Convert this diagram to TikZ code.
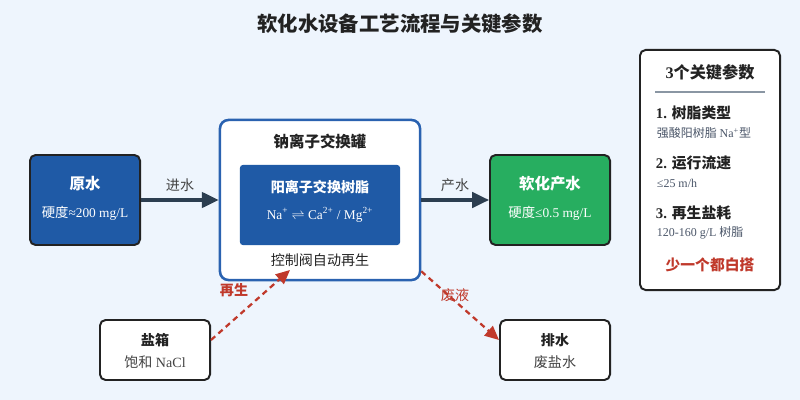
\documentclass[tikz,border=0pt]{standalone}
\usepackage{fontspec}
\setmainfont{Liberation Serif}
\newfontfamily\cjk{Noto Sans CJK SC}
\usetikzlibrary{arrows.meta, positioning, calc}
\definecolor{WtBg}{HTML}{EEF5FD}
\definecolor{WtBlue}{HTML}{1F5AA6}
\definecolor{WtEdge}{HTML}{2A62B0}
\definecolor{WtGreen}{HTML}{27AE60}
\definecolor{WtSlate}{HTML}{2C3E50}
\definecolor{WtRed}{HTML}{C0392B}
\definecolor{WtInk}{HTML}{222222}
\definecolor{WtGray}{HTML}{4A5568}
\definecolor{WtRule}{HTML}{8A96A3}

\begin{document}
\begin{tikzpicture}[x=0.025cm, y=-0.025cm,
    box/.style={rectangle, draw=WtInk, line width=1.4pt, rounded corners=4pt,
                inner sep=0pt},
    head/.style={font=\cjk\bfseries\fontsize{11}{13}\selectfont, text=WtInk},
    sub/.style={font=\fontsize{9.5}{12}\selectfont, text=WtInk!85},
    lbl/.style={font=\cjk\fontsize{10}{12}\selectfont, text=WtInk!85},
    flow/.style={-{Triangle[length=12pt, width=11pt]}, WtSlate, line width=2.2pt},
    wasteflow/.style={-{Triangle[length=10pt, width=9pt]}, WtRed, line width=1.6pt,
                      dash pattern=on 4pt off 3pt}
  ]
  \fill[WtBg] (0,0) rectangle (800,400);
  \useasboundingbox (0,0) rectangle (800,400);

  % Title
  \node[font=\cjk\bfseries\fontsize{14.5}{17}\selectfont, text=WtInk]
        (title) at (400,24) {软化水设备工艺流程与关键参数};

  % Raw water
  \node[box, fill=WtBlue, minimum width=2.75cm, minimum height=2.25cm]
        (raw) at (85,200) {};
  \node[head, text=white] (rawT) at (85,184) {原水};
  \node[sub, text=white] (rawS) at (85,213) {{\cjk 硬度}≈200 mg/L};

  % Exchange tank
  \node[rectangle, draw=WtEdge, line width=1.8pt, fill=white, rounded corners=6pt,
        minimum width=5cm, minimum height=4cm] (tank) at (320,200) {};
  \node[head] (tankT) at (320,142) {钠离子交换罐};
  \node[rectangle, fill=WtBlue, rounded corners=2pt,
        minimum width=4cm, minimum height=2cm] (resin) at (320,205) {};
  \node[font=\cjk\bfseries\fontsize{10}{12}\selectfont, text=white]
        (resinT) at (320,187) {阳离子交换树脂};
  \node[sub, text=white] (resinS) at (320,215)
        {Na\textsuperscript{+} $\rightleftharpoons$ Ca\textsuperscript{2+} / Mg\textsuperscript{2+}};
  \node[lbl, text=WtInk] (valve) at (320,260) {控制阀自动再生};

  % Soft water
  \node[box, fill=WtGreen, minimum width=3cm, minimum height=2.25cm]
        (soft) at (550,200) {};
  \node[head, text=white] (softT) at (550,184) {软化产水};
  \node[sub, text=white] (softS) at (550,213) {{\cjk 硬度}≤0.5 mg/L};

  % Main flow
  \draw[flow] (raw) -- (tank);
  \node[lbl] (inLbl) at (180,185) {进水};
  \draw[flow] (tank) -- (soft);
  \node[lbl] (outLbl) at (455,185) {产水};

  % Brine tank and drain
  \node[box, fill=white, minimum width=2.75cm, minimum height=1.5cm]
        (salt) at (155,350) {};
  \node[head, font=\cjk\bfseries\fontsize{10}{12}\selectfont] (saltT) at (155,340) {盐箱};
  \node[sub, font=\fontsize{10}{12}\selectfont] (saltS) at (155,362) {{\cjk 饱和} NaCl};
  \node[box, fill=white, minimum width=2.75cm, minimum height=1.5cm]
        (drain) at (555,350) {};
  \node[head, font=\cjk\bfseries\fontsize{10}{12}\selectfont] (drainT) at (555,340) {排水};
  \node[lbl] (drainS) at (555,362) {废盐水};

  % Regeneration / waste lines
  \coordinate (regenIn) at (290,270);
  \draw[wasteflow] ($(salt.east)+(0,-10)$) -- (regenIn);
  \node[font=\cjk\bfseries\fontsize{10}{12}\selectfont, text=WtRed]
        (regenLbl) at (234,290) {再生};
  \draw[wasteflow] ($(tank.south east)+(0,-10)$) -- ($(drain.west)+(0,-10)$);
  \node[lbl, text=WtRed] (wasteLbl) at (455,295) {废液};

  % Key parameters
  \node[box, fill=white, minimum width=3.5cm, minimum height=6cm]
        (params) at (710,170) {};
  \node[head, font=\cjk\bfseries\fontsize{11.5}{13}\selectfont] (paramsT) at (710,72)
        {\fontspec{Liberation Serif}3\cjk 个关键参数};
  \draw[WtRule, line width=1.4pt] (655,92) -- (765,92);
  \foreach \n/\y/\name/\val in {1/113/树脂类型/{{\cjk 强酸阳树脂} Na\textsuperscript{+}{\cjk 型}},
                                 2/163/运行流速/{≤25 m/h},
                                 3/213/再生盐耗/{120-160 g/L {\cjk 树脂}}} {
    \node[anchor=west, font=\bfseries\fontsize{10.5}{12}\selectfont, text=WtInk]
          (p\n) at (651,\y) {\n. {\cjk \name}};
    \node[anchor=west, font=\fontsize{8.5}{10}\selectfont, text=WtGray]
          (v\n) at (652,\y+20) {\val};
  }
  \node[font=\cjk\bfseries\fontsize{10.5}{12}\selectfont, text=WtRed]
        (warn) at (710,265) {少一个都白搭};
\end{tikzpicture}
\end{document}
